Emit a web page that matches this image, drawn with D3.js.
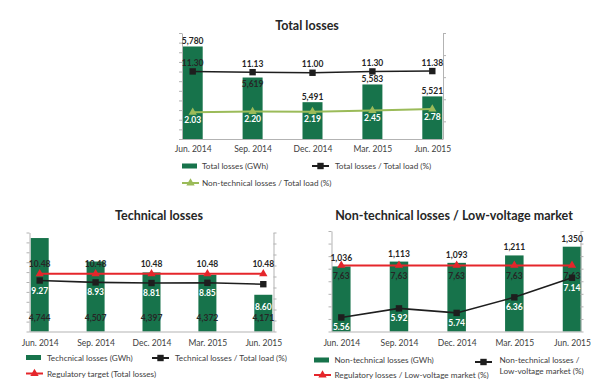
<!DOCTYPE html>
<html>
<head>
<meta charset="utf-8">
<script src="https://cdn.jsdelivr.net/npm/d3@7/dist/d3.min.js"></script>
<style>
  html, body { margin: 0; padding: 0; background: #ffffff; }
  svg { display: block; font-family: Lato, "Open Sans", sans-serif; }
</style>
</head>
<body>
<svg id="chart" width="608" height="384"></svg>
<script>
// ---------------- DATA ----------------
const categories = ["Jun. 2014", "Sep. 2014", "Dec. 2014", "Mar. 2015", "Jun. 2015"];

// Total losses chart
const totalLossesGWh = [5780, 5619, 5491, 5583, 5521];
const totalLossesPct = [11.30, 11.13, 11.00, 11.30, 11.38];
const nonTechOfTotalPct = [2.03, 2.20, 2.19, 2.45, 2.78];

// Technical losses chart
const techLossesGWh = [4744, 4507, 4397, 4372, 4171];
const techLossesPct = [9.27, 8.93, 8.81, 8.85, 8.60];
const regTargetPct = [10.48, 10.48, 10.48, 10.48, 10.48];

// Non-technical losses / LV market chart
const nonTechLossesGWh = [1036, 1113, 1093, 1211, 1350];
const nonTechLvPct = [5.56, 5.92, 5.74, 6.36, 7.14];
const regLvPct = [7.63, 7.63, 7.63, 7.63, 7.63];

// Axis ticks (no tick labels are shown on value axes)
const totalLeftTicks = [5300, 5350, 5400, 5450, 5500, 5550, 5600, 5650, 5700, 5750, 5800, 5850];
const totalRightTicks = [0, 5, 10, 15, 20];
const techLeftTicks = [3800, 3900, 4000, 4100, 4200, 4300, 4400, 4500, 4600, 4700, 4800];
const techRightTicks = [0, 2, 4, 6, 8, 10, 12, 14, 16, 18];
const ntLeftTicks = [0, 200, 400, 600, 800, 1000, 1200, 1400, 1600];
const ntRightTicks = [5, 5.5, 6, 6.5, 7, 7.5, 8, 8.5, 9];

// ---------------- STYLE ----------------
const GREEN = "#17734b";
const LIGHTGREEN = "#9bbb59";
const RED = "#e5262b";
const BLACK = "#1e1e1e";
const AXIS = "#b3b3b3";
const TEXT = "#262626";

const fmtThousands = d3.format(",");
const fmtDot = d3.format(".2f");
const fmtComma = v => d3.format(".2f")(v).replace(".", ",");

const svg = d3.select("#chart");

function marker(sel, type, color, cx, cy) {
  if (type === "square") {
    sel.append("rect").attr("x", cx - 3.2).attr("y", cy - 3.2)
      .attr("width", 6.4).attr("height", 6.4).attr("fill", color);
  } else {
    sel.append("path")
      .attr("d", d3.symbol().type(d3.symbolTriangle).size(30)())
      .attr("transform", `translate(${cx},${cy})`).attr("fill", color);
  }
}

function drawChart(cfg) {
  const g = svg.append("g");
  const x = d3.scalePoint().domain(categories).range([cfg.x0 + cfg.padL, cfg.x1 - cfg.padR]);
  const yL = d3.scaleLinear().domain(cfg.leftDomain).range([cfg.y1, cfg.y0]);
  const yR = d3.scaleLinear().domain(cfg.rightDomain).range([cfg.y1, cfg.y0]);

  // title
  g.append("text").attr("x", cfg.titleX).attr("y", cfg.titleY)
    .attr("text-anchor", "middle").attr("font-size", 12.5).attr("font-weight", 700)
    .attr("fill", TEXT).text(cfg.title);

  // bars
  const bars = cfg.bars.values.map((v, i) => ({ c: categories[i], v }));
  g.selectAll("rect.bar").data(bars).join("rect").attr("class", "bar")
    .attr("x", d => x(d.c) - cfg.barW / 2)
    .attr("y", d => yL(d.v))
    .attr("width", cfg.barW)
    .attr("height", d => cfg.y1 - yL(d.v))
    .attr("fill", GREEN);

  // axes
  const left = g.append("g").attr("transform", `translate(${cfg.x0},0)`)
    .call(d3.axisLeft(yL).tickValues(cfg.leftTicks).tickSize(3).tickSizeOuter(0).tickFormat(""));
  const right = g.append("g").attr("transform", `translate(${cfg.x1},0)`)
    .call(d3.axisRight(yR).tickValues(cfg.rightTicks).tickSize(3).tickSizeOuter(0).tickFormat(""));
  [left, right].forEach(a => {
    a.select(".domain").attr("stroke", AXIS).attr("stroke-width", 1);
    a.selectAll(".tick line").attr("stroke", AXIS);
  });
  g.append("line").attr("x1", cfg.x0).attr("x2", cfg.x1)
    .attr("y1", cfg.y1 + 0.5).attr("y2", cfg.y1 + 0.5)
    .attr("stroke", AXIS).attr("stroke-width", 1);

  const bottom = g.append("g").attr("transform", `translate(0,${cfg.y1})`)
    .call(d3.axisBottom(x).tickSize(0).tickPadding(cfg.xLabelPad));
  bottom.select(".domain").remove();
  bottom.selectAll("text").attr("font-size", 8.5).attr("fill", "#404040")
    .attr("font-family", "Lato, 'Open Sans', sans-serif");

  // lines
  cfg.lines.forEach(s => {
    const pts = s.values.map((v, i) => ({ c: categories[i], v, bar: cfg.bars.values[i] }));
    g.append("path").datum(pts)
      .attr("d", d3.line().x(d => x(d.c)).y(d => yR(d.v)))
      .attr("fill", "none").attr("stroke", s.color).attr("stroke-width", s.width);
    pts.forEach(p => marker(g, s.marker, s.color, x(p.c), yR(p.v)));
    pts.forEach(p => {
      let ly = yR(p.v) + s.labelDy;
      // white labels must sit inside their bar
      if (s.labelColor === "#ffffff" && ly < yL(p.bar) + 10) ly = yL(p.bar) + 15;
      g.append("text").attr("x", x(p.c)).attr("y", ly)
        .attr("text-anchor", "middle").attr("font-size", 8.5).attr("font-weight", 700)
        .attr("fill", s.labelColor).text(s.fmt(p.v));
    });
  });

  // bar labels
  bars.forEach((d, i) => {
    let ly;
    if (cfg.bars.labelMode === "base") {
      ly = cfg.y1 - cfg.bars.labelGap;
    } else {
      ly = yL(d.v) - cfg.bars.labelGap;
      if (cfg.bars.avoid) {
        const lineY = yR(cfg.lines[0].values[i]) + cfg.lines[0].labelDy;
        if (Math.abs(ly - lineY) < 12) ly = yL(d.v) + 9.5;
      }
    }
    g.append("text").attr("x", x(d.c)).attr("y", ly)
      .attr("text-anchor", "middle").attr("font-size", 8.5).attr("font-weight", 700)
      .attr("fill", TEXT).text(fmtThousands(d.v));
  });

  // legend
  cfg.legend.forEach(item => {
    const lg = g.append("g");
    if (item.type === "bar") {
      lg.append("rect").attr("x", item.x).attr("y", item.y - 2.5)
        .attr("width", 15).attr("height", 5).attr("fill", GREEN);
    } else {
      lg.append("line").attr("x1", item.x).attr("x2", item.x + 17)
        .attr("y1", item.y).attr("y2", item.y)
        .attr("stroke", item.color).attr("stroke-width", 2);
      marker(lg, item.marker, item.color, item.x + 8.5, item.y);
    }
    const lines = Array.isArray(item.label) ? item.label : [item.label];
    lines.forEach((t, k) => {
      lg.append("text").attr("x", item.tx).attr("y", item.ty + k * 11)
        .attr("font-size", 8.2).attr("fill", "#404040").text(t);
    });
  });
}

// ---------------- CHARTS ----------------
drawChart({
  title: "Total losses", titleX: 307, titleY: 30,
  x0: 182, x1: 443, y0: 33, y1: 139, padL: 10.7, padR: 10.7, barW: 20, xLabelPad: 7,
  leftDomain: [5300, 5850], rightDomain: [-4, 20],
  leftTicks: totalLeftTicks, rightTicks: totalRightTicks,
  bars: { values: totalLossesGWh, labelMode: "outside", labelGap: 2.5, avoid: true },
  lines: [
    { values: totalLossesPct, color: BLACK, width: 1.6, marker: "square", labelDy: -5.5, labelColor: TEXT, fmt: fmtDot },
    { values: nonTechOfTotalPct, color: LIGHTGREEN, width: 2, marker: "triangle", labelDy: 10.5, labelColor: "#ffffff", fmt: fmtDot }
  ],
  legend: [
    { type: "bar", x: 182, y: 166, tx: 202, ty: 169, label: "Total losses (GWh)" },
    { type: "line", color: BLACK, marker: "square", x: 312, y: 166, tx: 335, ty: 169, label: "Total losses / Total load (%)" },
    { type: "line", color: LIGHTGREEN, marker: "triangle", x: 182, y: 183, tx: 202, ty: 186, label: "Non-technical losses / Total load (%)" }
  ]
});

drawChart({
  title: "Technical losses", titleX: 159, titleY: 220,
  x0: 29.5, x1: 273.5, y0: 232.5, y1: 331.5, padL: 10.2, padR: 10.2, barW: 18, xLabelPad: 8,
  leftDomain: [3800, 4800], rightDomain: [0, 18],
  leftTicks: techLeftTicks, rightTicks: techRightTicks,
  bars: { values: techLossesGWh, labelMode: "base", labelGap: 10.5 },
  lines: [
    { values: regTargetPct, color: RED, width: 2, marker: "triangle", labelDy: -7, labelColor: TEXT, fmt: fmtDot },
    { values: techLossesPct, color: BLACK, width: 1.6, marker: "square", labelDy: 13, labelColor: "#ffffff", fmt: fmtDot }
  ],
  legend: [
    { type: "bar", x: 26, y: 357.5, tx: 47, ty: 360.5, label: "Techcnical losses (GWh)" },
    { type: "line", color: BLACK, marker: "square", x: 152, y: 358, tx: 175, ty: 361, label: "Technical losses / Total load (%)" },
    { type: "line", color: RED, marker: "triangle", x: 26, y: 373.5, tx: 47, ty: 376.5, label: "Regulatory target (Total losses)" }
  ]
});

drawChart({
  title: "Non-technical losses / Low-voltage market", titleX: 454, titleY: 220,
  x0: 331.5, x1: 580.5, y0: 231, y1: 331.5, padL: 9.8, padR: 8.5, barW: 18.5, xLabelPad: 8,
  leftDomain: [0, 1600], rightDomain: [5, 9],
  leftTicks: ntLeftTicks, rightTicks: ntRightTicks,
  bars: { values: nonTechLossesGWh, labelMode: "outside", labelGap: 5 },
  lines: [
    { values: regLvPct, color: RED, width: 2, marker: "triangle", labelDy: 14, labelColor: TEXT, fmt: fmtComma },
    { values: nonTechLvPct, color: BLACK, width: 1.6, marker: "square", labelDy: 13, labelColor: "#ffffff", fmt: fmtDot }
  ],
  legend: [
    { type: "bar", x: 314, y: 360, tx: 334.5, ty: 363, label: "Non-technical losses (GWh)" },
    { type: "line", color: BLACK, marker: "square", x: 475, y: 362, tx: 499.5, ty: 363, label: ["Non-technical losses /", "Low-voltage market (%)"] },
    { type: "line", color: RED, marker: "triangle", x: 314, y: 375, tx: 334.5, ty: 378, label: "Regulatory losses / Low-voltage market (%)" }
  ]
});
</script>
</body>
</html>
